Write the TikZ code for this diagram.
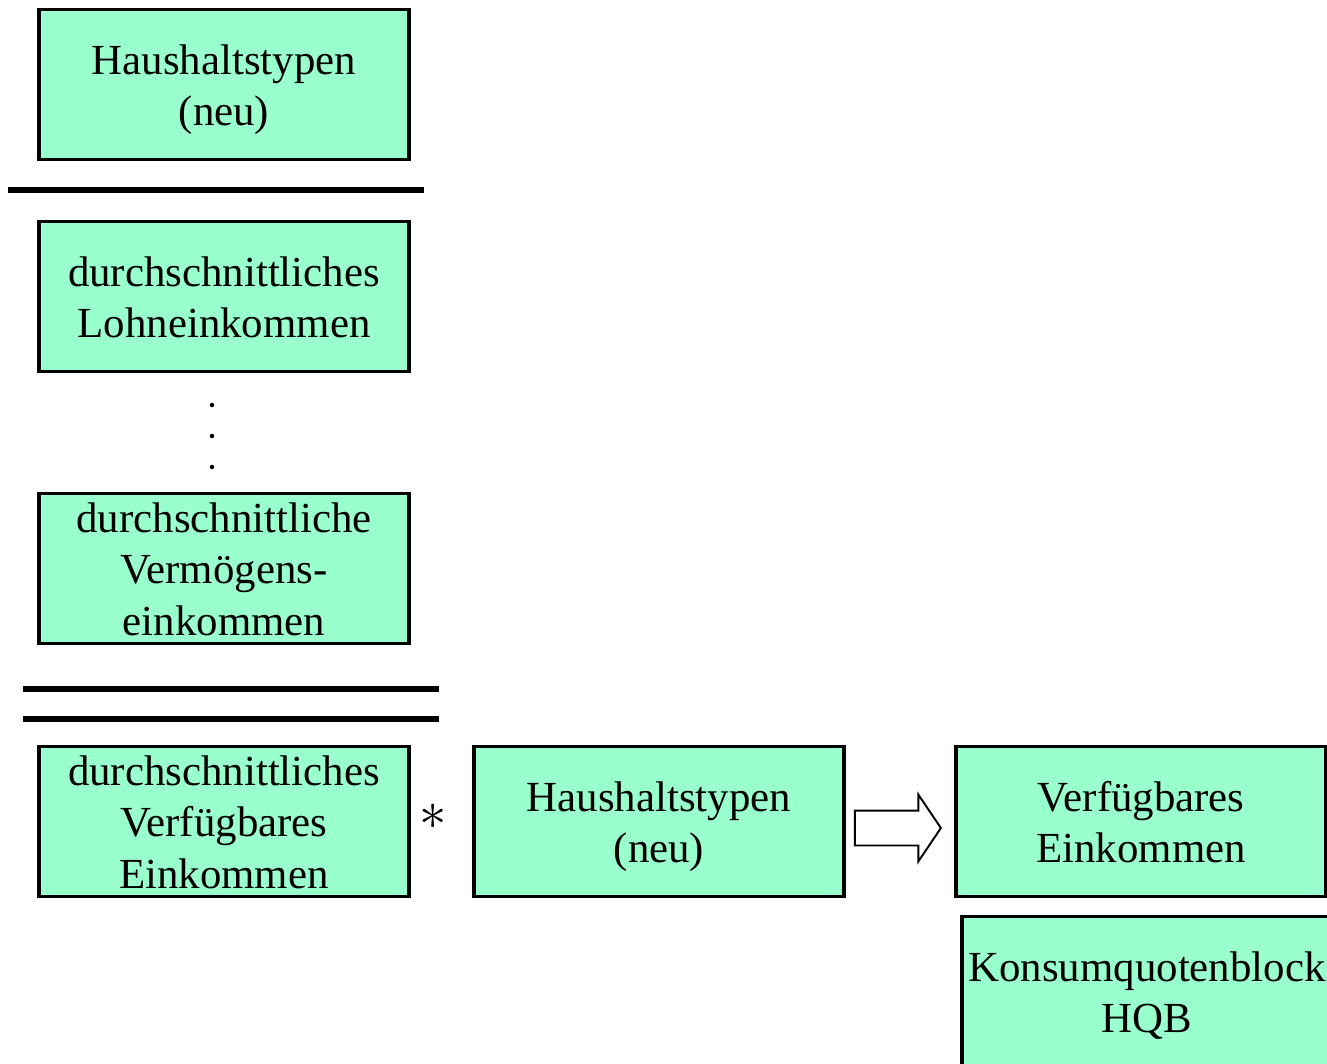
\documentclass[tikz,border=0pt]{standalone}
\usepackage{fontspec}
\setmainfont{Liberation Serif}
\usetikzlibrary{shapes.arrows, calc}
\definecolor{boxgreen}{RGB}{153,255,204}
\newcommand{\topstr}{\rule{0pt}{24pt}}
\newcommand{\botstr}{\rule[-6.4pt]{0pt}{6.4pt}}

\begin{document}
\begin{tikzpicture}[x=0.02cm, y=-0.02cm]
	\tikzstyle{Node} = [rectangle, minimum width=7.4cm, minimum height=3cm, text centered, align=center, draw=black, line width=2pt, fill=boxgreen, inner xsep=0pt, inner ysep=-0.3cm, font=\fontsize{24.4}{29.5}\selectfont]
	\tikzstyle{bar} = [line width=2.9pt, black]
	\tikzstyle{blockarrow} = [single arrow, draw=black, line width=1.1pt, fill=white, minimum height=1.72cm, inner xsep=0pt, inner ysep=0.33cm, single arrow head extend=0.32cm, single arrow tip angle=112]
	
	\useasboundingbox (0,0) rectangle (1327,1063);
	\clip (0,0) rectangle (1327,1063);
	
	% left column
	\node (ht1) [Node] at (224,84.5) {\topstr Haushaltstypen\\(neu)\botstr};
	\draw [bar] (8,190) -- (424,190);
	\node (le) [Node] at (224,296.5) {\topstr durchschnittliches\\Lohneinkommen\botstr};
	\foreach \y in {405,436,467}
		\fill (212,\y) circle (0.045cm);
	\node (ve) [Node] at (224,568.5) {\topstr durchschnittliche\\Vermögens-\\einkommen\botstr};
	\draw [bar] (23,689) -- (439,689);
	\draw [bar] (23,719) -- (439,719);
	\node (dve) [Node] at (224,821.5) {\topstr durchschnittliches\\Verfügbares\\Einkommen\botstr};
	
	% bottom row
	\node (star) [inner sep=0pt, font=\fontsize{24}{29}\selectfont] at (433,817) {\scalebox{1.25}{$\ast$}};
	\node (ht2) [Node] at (659,821.5) {\topstr Haushaltstypen\\(neu)\botstr};
	\node (vek) [Node] at (1141,821.5) {\topstr Verfügbares\\Einkommen\botstr};
	\node (arr) [blockarrow] at ($(ht2.east)!0.5!(vek.west)+(-8,6.5)$) {};
	\node (kqb) [Node] at (1147,991.5) {\topstr Konsumquotenblock\\HQB\botstr};
\end{tikzpicture}
\end{document}
